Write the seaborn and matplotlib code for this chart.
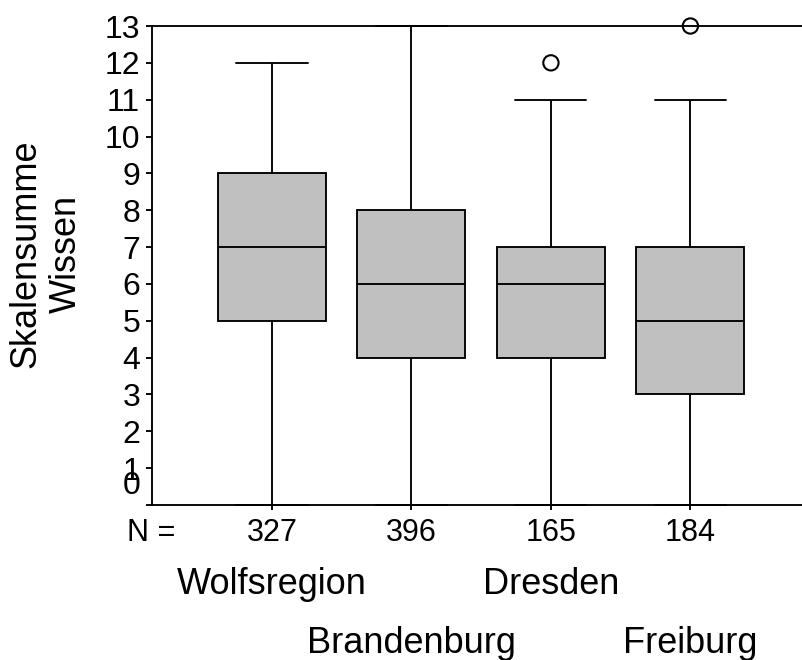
import matplotlib
matplotlib.use("Agg")
import matplotlib.pyplot as plt
import numpy as np
import pandas as pd
import seaborn as sns

# Regions and their box summaries (Skalensumme Wissen)
regions = ["Wolfsregion", "Brandenburg", "Dresden", "Freiburg"]
counts = [327, 396, 165, 184]
whisker_low = [0, 0, 0, 0]
q1 = [5, 4, 4, 3]
median = [7, 6, 6, 5]
q3 = [9, 8, 7, 7]
whisker_high = [12, 13, 11, 11]
outlier_region = ["Dresden", "Freiburg"]
outlier_value = [12, 13]
y_ticks = list(range(0, 14))

sns.set_theme(style="white")
plt.rcParams["font.family"] = ["Liberation Sans", "DejaVu Sans"]

# Five-number rows per region; with whiskers spanning 0-100 percent the
# drawn box reproduces exactly these summary values.
rows = []
for i, r in enumerate(regions):
    for v in (whisker_low[i], q1[i], median[i], q3[i], whisker_high[i]):
        rows.append({"Region": r, "Wert": v})
summary = pd.DataFrame(rows)
outliers = pd.DataFrame({"Region": outlier_region, "Wert": outlier_value})

fig = plt.figure(figsize=(8.02, 6.6), dpi=100)
ax = fig.add_axes([152 / 802, 1 - 505 / 660, 1 - 152 / 802, (505 - 26) / 660])

lw = 1.35
sns.boxplot(
    data=summary, x="Region", y="Wert", order=regions, ax=ax,
    whis=(0, 100), showfliers=False, width=0.775, saturation=1,
    color="#c0c0c0", linecolor="black", linewidth=lw,
    capwidths=0.51,
    medianprops=dict(color="black", linewidth=lw),
)
# caps lying on the frame stay fully visible
for line in ax.lines:
    line.set_clip_on(False)

sns.stripplot(
    data=outliers, x="Region", y="Wert", order=regions, ax=ax,
    jitter=False, size=11, color="white", edgecolor="black", linewidth=1.5,
    zorder=5, clip_on=False,
)
for coll in ax.collections:
    if len(coll.get_offsets()) and coll.get_offsets().shape[0] <= 2:
        coll.set_facecolor("none")

ax.set_xlim(-0.86, 3.8)
ax.set_ylim(0, 13)
ax.set_xlabel("")
ax.set_ylabel("")

for side in ("left", "top", "bottom"):
    ax.spines[side].set_visible(True)
    ax.spines[side].set_color("black")
    ax.spines[side].set_linewidth(lw)
ax.spines["right"].set_visible(False)

fs_y = 23
ax.set_yticks(y_ticks)
ax.set_yticklabels([""] + [str(t) for t in y_ticks[1:]])
ax.tick_params(axis="y", direction="out", length=4.3, width=lw, color="black",
               pad=4.3, labelsize=fs_y, labelcolor="black", left=True)
ax.tick_params(axis="x", direction="out", length=3.6, width=lw, color="black",
               bottom=True, labelbottom=False)

# the zero label sits a little above its tick
ax.annotate("0", xy=(0, 0), xycoords=("axes fraction", "data"),
            xytext=(-12, 18.5), textcoords="offset pixels",
            ha="right", va="center", fontsize=fs_y, color="black")

# group sizes and region names beneath the axis
fs_n = 22
ax.annotate("N =", xy=(0, 0), xycoords="axes fraction",
            xytext=(-25, -36), textcoords="offset pixels",
            ha="left", va="baseline", fontsize=fs_n, color="black")
for i, (r, n) in enumerate(zip(regions, counts)):
    ax.annotate(str(n), xy=(i, 0), xycoords=("data", "axes fraction"),
                xytext=(0, -36), textcoords="offset pixels",
                ha="center", va="baseline", fontsize=fs_n, color="black")
    dy = -89 if i % 2 == 0 else -148
    ax.annotate(r, xy=(i, 0), xycoords=("data", "axes fraction"),
                xytext=(0, dy), textcoords="offset pixels",
                ha="center", va="baseline", fontsize=26, color="black")

fig.text(46 / 802, 1 - 254 / 660, "Skalensumme\nWissen", rotation=90,
         ha="center", va="center", multialignment="center",
         fontsize=26, color="black")

fig.savefig("out.png", dpi=100, facecolor="white")
